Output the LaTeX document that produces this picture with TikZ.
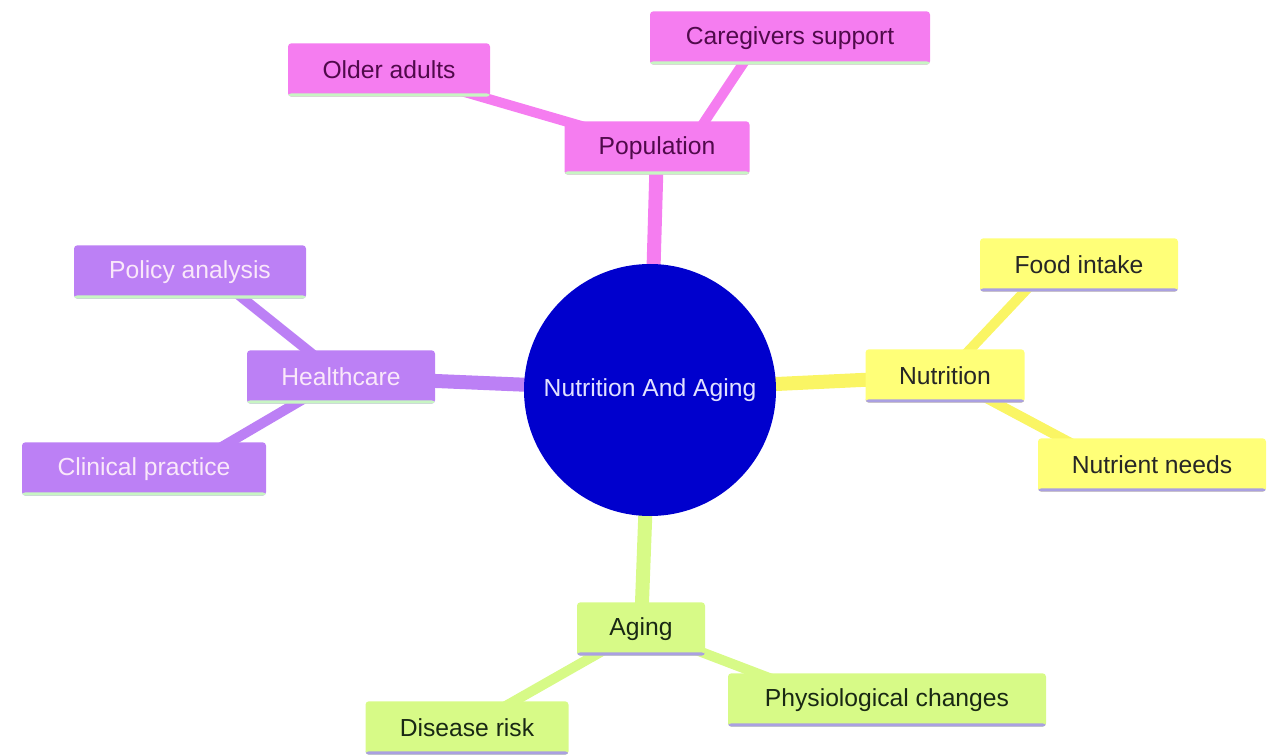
\documentclass[tikz,border=0pt]{standalone}
\usepackage{fontspec}
\setmainfont{Liberation Sans}
\usetikzlibrary{backgrounds}
\definecolor{pinkF}{RGB}{245,125,240}
\definecolor{pinkT}{RGB}{80,10,75}
\definecolor{yelF}{RGB}{255,255,120}
\definecolor{yelE}{RGB}{250,245,100}
\definecolor{purF}{RGB}{188,128,245}
\definecolor{purT}{RGB}{250,232,250}
\definecolor{grnF}{RGB}{215,250,135}
\definecolor{grnT}{RGB}{25,40,20}
\definecolor{lineG}{RGB}{200,245,195}
\definecolor{lineL}{RGB}{170,160,225}
\definecolor{centF}{RGB}{0,0,205}
\definecolor{centT}{RGB}{225,225,255}
\tikzset{
  box/.style={rectangle, rounded corners=2.5pt, inner sep=0pt, minimum height=40pt,
    font=\fontsize{18.5}{22}\selectfont},
  ul/.style={path picture={\fill[#1] ([yshift=2.5pt]path picture bounding box.south west) rectangle (path picture bounding box.south east);}},
  popbox/.style={box, fill=pinkF, text=pinkT, ul=lineG},
  nutbox/.style={box, fill=yelF, text=black!85, ul=lineL},
  hcbox/.style={box, fill=purF, text=purT, ul=lineG},
  agebox/.style={box, fill=grnF, text=grnT, ul=lineL},
  mainedge/.style={line width=10.5pt},
  subedge/.style={line width=7.5pt},
}
\begin{document}
\begin{tikzpicture}[x=0.75pt,y=-0.75pt]
\useasboundingbox (0,0) rectangle (1268,756);
\node[circle, fill=centF, text=centT, minimum size=189pt, inner sep=0pt, font=\fontsize{18.5}{22}\selectfont] (c) at (650,390) {Nutrition And Aging};

\node[popbox, minimum width=138.75pt] (pop) at (657,148) {Population};
\node[popbox, minimum width=151.5pt] (old) at (389,70) {Older adults};
\node[popbox, minimum width=210pt] (care) at (790,38) {Caregivers support};

\node[nutbox, minimum width=119.25pt] (nut) at (945,376) {Nutrition};
\node[nutbox, minimum width=148.5pt] (food) at (1079,265) {Food intake};
\node[nutbox, minimum width=171pt] (need) at (1152,465) {Nutrient needs};

\node[hcbox, minimum width=141pt] (hc) at (341,377) {Healthcare};
\node[hcbox, minimum width=174pt] (pol) at (190,272) {Policy analysis};
\node[hcbox, minimum width=183pt] (clin) at (144,469) {Clinical practice};

\node[agebox, minimum width=96pt] (age) at (641,629) {Aging};
\node[agebox, minimum width=152.25pt] (dis) at (467,728) {Disease risk};
\node[agebox, minimum width=238.5pt] (phys) at (887,700) {Physiological changes};

\begin{pgfonlayer}{background}
\draw[mainedge, pinkF] (c.center) -- (pop.center);
\draw[subedge, pinkF] (old.center) -- (pop.center);
\draw[subedge, pinkF] ([xshift=-22.5pt]care.center) -- ([xshift=22.5pt]pop.center);
\draw[mainedge, yelE] (c.center) -- (nut.center);
\draw[subedge, yelE] ([xshift=-22pt]food.center) -- (nut.center);
\draw[subedge, yelE] ([xshift=-30pt]need.center) -- (nut.center);
\draw[mainedge, purF] (c.center) -- (hc.center);
\draw[subedge, purF] ([xshift=15pt]pol.center) -- (hc.center);
\draw[subedge, purF] ([xshift=30pt]clin.center) -- (hc.center);
\draw[mainedge, grnF] (c.center) -- (age.center);
\draw[subedge, grnF] (dis.center) -- (age.center);
\draw[subedge, grnF] ([xshift=-45pt]phys.center) -- (age.center);
\end{pgfonlayer}
\end{tikzpicture}
\end{document}
